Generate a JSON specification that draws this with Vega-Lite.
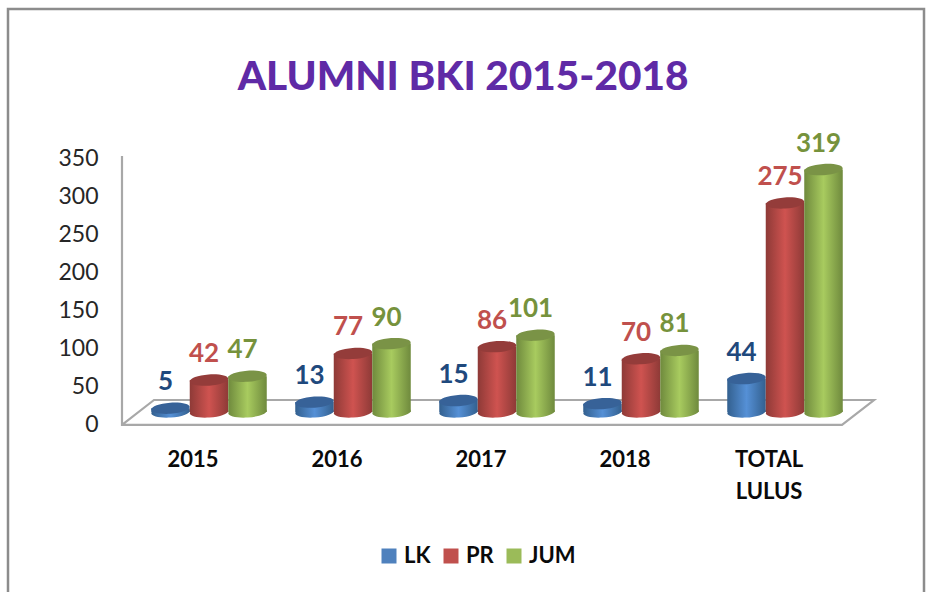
{
"$schema":"https://vega.github.io/schema/vega-lite/v6.json",
"width":916,"height":592,
"autosize":{"type":"none"},
"padding":{"left":8,"top":9,"right":4,"bottom":0},
"background":"white",
"view":{"stroke":"#8c8c8c","strokeWidth":2.5,"fill":"white"},
"title":{"text":"ALUMNI BKI 2015-2018","font":"Lato","fontWeight":900,"fontSize":40.5,"anchor":"middle","offset":-121,"dx":-3,"baseline":"alphabetic","color":"#5f2aa6"},
"datasets":{
"alumni":[
{"cat":"2015","series":"LK","value":5},{"cat":"2015","series":"PR","value":42},{"cat":"2015","series":"JUM","value":47},
{"cat":"2016","series":"LK","value":13},{"cat":"2016","series":"PR","value":77},{"cat":"2016","series":"JUM","value":90},
{"cat":"2017","series":"LK","value":15},{"cat":"2017","series":"PR","value":86},{"cat":"2017","series":"JUM","value":101},
{"cat":"2018","series":"LK","value":11},{"cat":"2018","series":"PR","value":70},{"cat":"2018","series":"JUM","value":81},
{"cat":"TOTAL LULUS","series":"LK","value":44},{"cat":"TOTAL LULUS","series":"PR","value":275},{"cat":"TOTAL LULUS","series":"JUM","value":319}
],
"frame":[
{"o":1,"px":114,"v":337},{"o":2,"px":114,"v":-17},{"o":3,"px":834,"v":-17},{"o":4,"px":866,"v":15.8},{"o":5,"px":146,"v":15.8},{"o":6,"px":114,"v":-17}
]
},
"resolve":{"scale":{"x":"independent"}},
"layer":[
{"data":{"name":"frame"},"mark":{"type":"line","stroke":"#a8a8a8","strokeWidth":2.2,"interpolate":"linear"},
"encoding":{
"x":{"field":"px","type":"quantitative","axis":null,"scale":{"domain":[0,916],"nice":false,"zero":false}},
"y":{"field":"v","type":"quantitative","title":null,"scale":{"domain":[-248.7,530.3],"nice":false,"zero":false},
"axis":{"values":[0,50,100,150,200,250,300,350],"domain":false,"ticks":false,"grid":false,"tickSize":0,"labelPadding":0,"offset":-90,"labelOffset":12.5,"labelFont":"Lato","labelFontSize":23,"labelColor":"#262626","labelBound":false,"labelFlush":false,"labelOverlap":false}},
"order":{"field":"o","type":"quantitative"}}},
{"data":{"name":"alumni"},"mark":{"type":"point","filled":true,"opacity":1,"shape":"M-1,0A1,0.29,0,1,1,1,0A1,0.29,0,1,1,-1,0Z","angle":-4,"size":1482},
"encoding":{
"x":{"field":"cat","type":"nominal","title":null,"axis":null,"scale":{"domain":["2015","2016","2017","2018","TOTAL LULUS"],"range":[129,849],"paddingInner":0,"paddingOuter":0}},
"xOffset":{"field":"series","type":"nominal","scale":{"domain":["LK","PR","JUM"],"paddingInner":0,"paddingOuter":0.37}},
"y":{"datum":0,"type":"quantitative"},
"fill":{"condition":[
{"test":"datum.series==='LK'","value":{"x1":0,"y1":0,"x2":1,"y2":0,"gradient":"linear","stops":[{"offset":0,"color":"#33608f"},{"offset":0.5,"color":"#5590d6"},{"offset":1,"color":"#33608f"}]}},
{"test":"datum.series==='PR'","value":{"x1":0,"y1":0,"x2":1,"y2":0,"gradient":"linear","stops":[{"offset":0,"color":"#8e3a37"},{"offset":0.5,"color":"#cf5350"},{"offset":1,"color":"#8e3a37"}]}}
],"value":{"x1":0,"y1":0,"x2":1,"y2":0,"gradient":"linear","stops":[{"offset":0,"color":"#6f8a3d"},{"offset":0.5,"color":"#a8cb5f"},{"offset":1,"color":"#6f8a3d"}]}}}},
{"data":{"name":"alumni"},"mark":{"type":"bar"},
"encoding":{
"x":{"field":"cat","type":"nominal","title":null,
"axis":{"domain":false,"ticks":false,"tickSize":0,"labelPadding":0,"offset":-152,"labelOffset":-16,"labelAngle":0,"labelFont":"Lato","labelFontWeight":"bold","labelFontSize":22,"labelColor":"#0a0a0a","labelLineHeight":32,"labelExpr":"datum.label==='TOTAL LULUS'?['TOTAL','LULUS']:datum.label"},
"scale":{"domain":["2015","2016","2017","2018","TOTAL LULUS"],"range":[129,849],"paddingInner":0,"paddingOuter":0}},
"xOffset":{"field":"series","type":"nominal","scale":{"domain":["LK","PR","JUM"],"paddingInner":0,"paddingOuter":0.37}},
"y":{"field":"value","type":"quantitative"},
"fill":{"condition":[
{"test":"datum.series==='LK'","value":{"x1":0,"y1":0,"x2":1,"y2":0,"gradient":"linear","stops":[{"offset":0,"color":"#33608f"},{"offset":0.5,"color":"#5590d6"},{"offset":1,"color":"#33608f"}]}},
{"test":"datum.series==='PR'","value":{"x1":0,"y1":0,"x2":1,"y2":0,"gradient":"linear","stops":[{"offset":0,"color":"#8e3a37"},{"offset":0.5,"color":"#cf5350"},{"offset":1,"color":"#8e3a37"}]}}
],"value":{"x1":0,"y1":0,"x2":1,"y2":0,"gradient":"linear","stops":[{"offset":0,"color":"#6f8a3d"},{"offset":0.5,"color":"#a8cb5f"},{"offset":1,"color":"#6f8a3d"}]}}}},
{"data":{"name":"alumni"},"mark":{"type":"point","filled":true,"opacity":1,"shape":"M-1,0A1,0.29,0,1,1,1,0A1,0.29,0,1,1,-1,0Z","angle":-4,"size":1482},
"encoding":{
"x":{"field":"cat","type":"nominal","title":null,"axis":null,"scale":{"domain":["2015","2016","2017","2018","TOTAL LULUS"],"range":[129,849],"paddingInner":0,"paddingOuter":0}},
"xOffset":{"field":"series","type":"nominal","scale":{"domain":["LK","PR","JUM"],"paddingInner":0,"paddingOuter":0.37}},
"y":{"field":"value","type":"quantitative"},
"fill":{"condition":[{"test":"datum.series==='LK'","value":"#376298"},{"test":"datum.series==='PR'","value":"#943c3a"}],"value":"#7a9346"}}},
{"data":{"name":"alumni"},"mark":{"type":"text","font":"Lato","fontWeight":"bold","fontSize":26,"baseline":"middle","align":"center","dx":-5,"dy":-26},
"encoding":{
"x":{"field":"cat","type":"nominal","title":null,"axis":null,"scale":{"domain":["2015","2016","2017","2018","TOTAL LULUS"],"range":[129,849],"paddingInner":0,"paddingOuter":0}},
"xOffset":{"field":"series","type":"nominal","scale":{"domain":["LK","PR","JUM"],"paddingInner":0,"paddingOuter":0.37}},
"y":{"field":"value","type":"quantitative"},
"text":{"field":"value","type":"quantitative"},
"fill":{"condition":[{"test":"datum.series==='LK'","value":"#1f497d"},{"test":"datum.series==='PR'","value":"#c0504d"}],"value":"#76923c"}}},
{"data":{"name":"alumni"},"mark":{"type":"point","filled":true,"size":0,"shape":"square"},
"encoding":{
"x":{"field":"cat","type":"nominal","title":null,"axis":null,"scale":{"domain":["2015","2016","2017","2018","TOTAL LULUS"],"range":[129,849],"paddingInner":0,"paddingOuter":0}},
"y":{"field":"value","type":"quantitative"},
"color":{"field":"series","type":"nominal","scale":{"domain":["LK","PR","JUM"],"range":["#4f81bd","#c0504d","#9bbb59"]},
"legend":{"title":null,"orient":"none","direction":"horizontal","columns":3,"legendX":370,"legendY":536,"symbolType":"square","symbolSize":225,"symbolOpacity":1,"labelFont":"Lato","labelFontWeight":"bold","labelFontSize":22,"labelColor":"#0a0a0a","labelOffset":4,"columnPadding":9}}}}
]
}
